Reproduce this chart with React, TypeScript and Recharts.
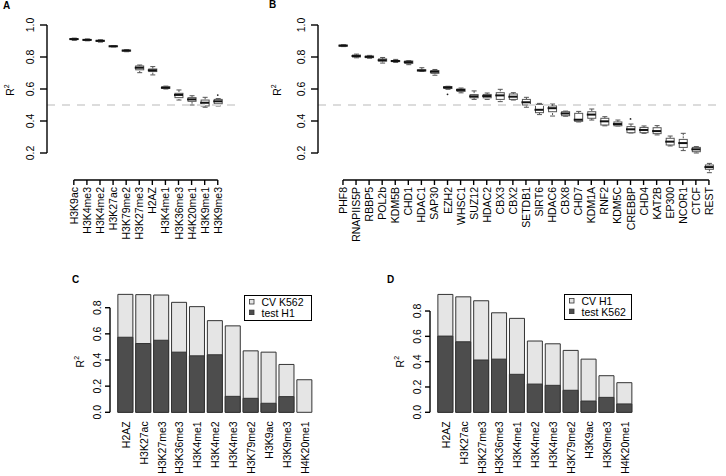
import React from 'react';
import { ComposedChart, Bar, Scatter, XAxis, YAxis, ReferenceLine, Legend } from 'recharts';

const FONT = '"Liberation Sans", Arial, Helvetica, sans-serif';
const TXT = 10.5;

// A: histone marks, cross-validation R2 (five-number summaries per mark)
const aNames = ['H3K9ac', 'H3K4me3', 'H3K4me2', 'H3K27ac', 'H3K79me2', 'H3K27me3', 'H2AZ', 'H3K4me1', 'H3K36me3', 'H4K20me1', 'H3K9me1', 'H3K9me3'];
const aLow = [0.904, 0.901, 0.893, 0.863, 0.833, 0.702, 0.688, 0.600, 0.531, 0.500, 0.486, 0.494];
const aQ1 = [0.909, 0.905, 0.898, 0.865, 0.837, 0.720, 0.709, 0.604, 0.546, 0.523, 0.494, 0.508];
const aMed = [0.912, 0.907, 0.901, 0.867, 0.840, 0.733, 0.717, 0.608, 0.563, 0.535, 0.514, 0.523];
const aQ3 = [0.914, 0.909, 0.904, 0.869, 0.843, 0.744, 0.725, 0.614, 0.573, 0.546, 0.531, 0.535];
const aHigh = [0.918, 0.913, 0.908, 0.871, 0.846, 0.750, 0.740, 0.618, 0.594, 0.558, 0.548, 0.540];
const aOutliers = [{ name: 'H3K9me3', value: 0.562 }];

// B: transcription factors / chromatin proteins
const bNames = ['PHF8', 'RNAPIIS5P', 'RBBP5', 'POL2b', 'KDM5B', 'CHD1', 'HDAC1', 'SAP30', 'EZH2', 'WHSC1', 'SUZ12', 'HDAC2', 'CBX3', 'CBX2', 'SETDB1', 'SIRT6', 'HDAC6', 'CBX8', 'CHD7', 'KDM1A', 'RNF2', 'KDM5C', 'CREBBP', 'CHD4', 'KAT2B', 'EP300', 'NCOR1', 'CTCF', 'REST'];
const bLow = [0.865, 0.795, 0.792, 0.762, 0.766, 0.752, 0.710, 0.686, 0.598, 0.576, 0.535, 0.535, 0.521, 0.531, 0.486, 0.440, 0.431, 0.430, 0.394, 0.406, 0.370, 0.369, 0.325, 0.323, 0.313, 0.244, 0.215, 0.200, 0.077];
const bQ1 = [0.868, 0.800, 0.796, 0.774, 0.771, 0.760, 0.713, 0.698, 0.603, 0.585, 0.545, 0.545, 0.535, 0.535, 0.500, 0.452, 0.458, 0.433, 0.398, 0.417, 0.375, 0.370, 0.327, 0.327, 0.321, 0.250, 0.235, 0.208, 0.098];
const bMed = [0.871, 0.806, 0.801, 0.780, 0.775, 0.768, 0.716, 0.708, 0.610, 0.594, 0.554, 0.556, 0.560, 0.552, 0.517, 0.470, 0.480, 0.447, 0.408, 0.440, 0.398, 0.381, 0.348, 0.344, 0.337, 0.271, 0.262, 0.223, 0.112];
const bQ3 = [0.874, 0.812, 0.806, 0.788, 0.778, 0.775, 0.720, 0.715, 0.615, 0.600, 0.565, 0.566, 0.577, 0.569, 0.535, 0.504, 0.494, 0.458, 0.448, 0.458, 0.417, 0.394, 0.365, 0.360, 0.358, 0.292, 0.285, 0.235, 0.125];
const bHigh = [0.877, 0.818, 0.810, 0.797, 0.785, 0.778, 0.733, 0.722, 0.617, 0.606, 0.588, 0.575, 0.598, 0.577, 0.548, 0.510, 0.506, 0.462, 0.460, 0.475, 0.427, 0.406, 0.381, 0.369, 0.371, 0.306, 0.323, 0.240, 0.135];
const bOutliers = [{ name: 'EZH2', value: 0.567 }, { name: 'CREBBP', value: 0.413 }];

// C: CV in K562 vs test in H1
const cNames = ['H2AZ', 'H3K27ac', 'H3K27me3', 'H3K36me3', 'H3K4me1', 'H3K4me2', 'H3K4me3', 'H3K79me2', 'H3K9ac', 'H3K9me3', 'H4K20me1'];
const cCv = [0.902, 0.900, 0.897, 0.841, 0.808, 0.701, 0.661, 0.470, 0.460, 0.366, 0.249];
const cTest = [0.574, 0.526, 0.551, 0.460, 0.432, 0.440, 0.122, 0.107, 0.069, 0.120, 0.0];

// D: CV in H1 vs test in K562
const dNames = ['H2AZ', 'H3K27ac', 'H3K27me3', 'H3K36me3', 'H3K4me1', 'H3K4me2', 'H3K4me3', 'H3K79me2', 'H3K9ac', 'H3K9me3', 'H4K20me1'];
const dCv = [0.931, 0.912, 0.881, 0.786, 0.742, 0.563, 0.541, 0.489, 0.420, 0.289, 0.234];
const dTest = [0.602, 0.557, 0.413, 0.420, 0.300, 0.223, 0.213, 0.174, 0.089, 0.118, 0.066];

const boxTicks = [0.2, 0.4, 0.6, 0.8, 1.0];
const barTicks = [0, 0.2, 0.4, 0.6, 0.8];
const BOX_YMIN = 0.03125;
const BAR_XDOMAIN: [number, number] = [0.12, 11.88];
const AXIS_STROKE = { stroke: '#000', strokeWidth: 1.4 };

const ValueTick = ({ x, y, payload, shift }: any) => (
  <text
    transform={`translate(${x - shift},${y}) rotate(-90)`}
    textAnchor="middle"
    dominantBaseline="central"
    fontSize={TXT}
    fontFamily={FONT}
    fill="#000"
  >
    {Number(payload.value).toFixed(1)}
  </text>
);

const NameTick = ({ x, y, payload, names }: any) => (
  <text
    transform={`translate(${x},${y}) rotate(-90)`}
    textAnchor="end"
    dominantBaseline="central"
    fontSize={TXT}
    fontFamily={FONT}
    fill="#000"
  >
    {names[payload.value - 1]}
  </text>
);

const R2Label = ({ cx, cy }: any) => (
  <text
    transform={`translate(${cx},${cy}) rotate(-90)`}
    textAnchor="middle"
    dominantBaseline="central"
    fontSize={TXT}
    fontFamily={FONT}
    fill="#000"
  >
    R<tspan fontSize={7} dy={-4}>2</tspan>
  </text>
);

const Whisker = (props: any) => {
  const { x, y, width, height } = props;
  if (x == null || y == null) return null;
  const cx = x + width / 2;
  const top = Math.min(y, y + height);
  const bot = Math.max(y, y + height);
  return (
    <g stroke="#555" strokeWidth={1}>
      <line x1={cx} x2={cx} y1={top} y2={bot} strokeDasharray="2 1" />
      <line x1={cx - 2.5} x2={cx + 2.5} y1={top} y2={top} />
      <line x1={cx - 2.5} x2={cx + 2.5} y1={bot} y2={bot} />
    </g>
  );
};

const BoxShape = (props: any) => {
  const { x, y, width, height } = props;
  if (x == null || y == null) return null;
  return (
    <rect
      x={x}
      y={Math.min(y, y + height)}
      width={width}
      height={Math.abs(height)}
      fill="#fff"
      stroke="#555"
      strokeWidth={1}
    />
  );
};

const MedianMark = (props: any) => {
  const { cx, cy } = props;
  return <line x1={cx - 4.5} x2={cx + 4.5} y1={cy} y2={cy} stroke="#111" strokeWidth={2} />;
};

const OutlierDot = (props: any) => <circle cx={props.cx} cy={props.cy} r={0.9} fill="#222" />;

const NoMark = () => <g />;

type BoxPanelProps = {
  names: string[];
  low: number[];
  q1: number[];
  med: number[];
  q3: number[];
  high: number[];
  outliers: { name: string; value: number }[];
  width: number;
  yAxisWidth: number;
  rightMargin: number;
  xDomain: [number, number];
  labelX: number;
};

const BoxPanel: React.FC<BoxPanelProps> = ({ names, low, q1, med, q3, high, outliers, width, yAxisWidth, rightMargin, xDomain, labelX }) => {
  const rows = names.map((name, i) => ({
    pos: i + 1,
    name,
    whisker: [low[i], high[i]],
    box: [q1[i], q3[i]],
    med: med[i],
  }));
  const outRows = outliers.map((o) => ({ pos: names.indexOf(o.name) + 1, value: o.value }));
  const ticks = names.map((_, i) => i + 1);
  // R-style axes: lines only across the tick range
  const yAxisPts = [{ pos: xDomain[0], v: 0.2 }, { pos: xDomain[0], v: 1 }];
  const xAxisPts = [{ pos: 1, v: BOX_YMIN }, { pos: names.length, v: BOX_YMIN }];

  return (
    <ComposedChart width={width} height={260} data={rows} margin={{ top: 25, right: rightMargin, bottom: 0, left: 0 }}>
      <XAxis
        dataKey="pos"
        type="number"
        domain={xDomain}
        ticks={ticks}
        interval={0}
        axisLine={false}
        tickSize={5}
        tickLine={AXIS_STROKE}
        height={80}
        tick={<NameTick names={names} />}
      />
      <XAxis xAxisId="box" dataKey="pos" type="number" domain={xDomain} hide />
      <YAxis
        type="number"
        domain={[BOX_YMIN, 1]}
        ticks={boxTicks}
        width={yAxisWidth}
        axisLine={false}
        tickSize={7}
        tickLine={AXIS_STROKE}
        tick={<ValueTick shift={8} />}
        label={<R2Label cx={labelX} cy={90} />}
      />
      <ReferenceLine y={0.5} stroke="#dcdcdc" strokeWidth={2} strokeDasharray="8 7" />
      <Scatter data={yAxisPts} dataKey="v" line={AXIS_STROKE} shape={<NoMark />} legendType="none" isAnimationActive={false} />
      <Scatter data={xAxisPts} dataKey="v" line={AXIS_STROKE} shape={<NoMark />} legendType="none" isAnimationActive={false} />
      <Bar dataKey="whisker" barSize={8} shape={(p: any) => <Whisker {...p} />} isAnimationActive={false} />
      <Bar xAxisId="box" dataKey="box" barSize={8} shape={(p: any) => <BoxShape {...p} />} isAnimationActive={false} />
      <Scatter dataKey="med" shape={(p: any) => <MedianMark {...p} />} isAnimationActive={false} />
      <Scatter data={outRows} dataKey="value" shape={(p: any) => <OutlierDot {...p} />} isAnimationActive={false} />
    </ComposedChart>
  );
};

const PairLegend = ({ payload }: any) => {
  const items = (payload || []).filter((p: any) => p.type !== 'none');
  return (
    <svg width={68} height={26} style={{ display: 'block' }}>
      <rect x={0.5} y={0.5} width={67} height={25} fill="#fff" stroke="#000" />
      {items.map((p: any, i: number) => (
        <g key={p.value}>
          <rect x={5.5} y={4.5 + i * 10.6} width={4.5} height={4.5} fill={p.color} stroke="#333" strokeWidth={0.8} />
          <text x={17.5} y={7 + i * 10.6} dominantBaseline="central" fontSize={TXT} fontFamily={FONT} fill="#000">
            {p.value}
          </text>
        </g>
      ))}
    </svg>
  );
};

type PairPanelProps = {
  names: string[];
  cv: number[];
  test: number[];
  seriesNames: [string, string];
  width: number;
  yAxisWidth: number;
  rightMargin: number;
  topMargin: number;
  labelX: number;
  legendLeft: number;
  legendTop: number;
};

const PairPanel: React.FC<PairPanelProps> = ({ names, cv, test, seriesNames, width, yAxisWidth, rightMargin, topMargin, labelX, legendLeft, legendTop }) => {
  const rows = names.map((name, i) => ({ pos: i + 1, name, cv: cv[i], test: test[i] }));
  const ticks = names.map((_, i) => i + 1);
  const yAxisPts = [{ pos: BAR_XDOMAIN[0], v: 0 }, { pos: BAR_XDOMAIN[0], v: 0.8 }];

  return (
    <ComposedChart width={width} height={206} data={rows} margin={{ top: topMargin, right: rightMargin, bottom: 0, left: 0 }}>
      <XAxis
        dataKey="pos"
        type="number"
        domain={BAR_XDOMAIN}
        ticks={ticks}
        interval={0}
        axisLine={false}
        tickLine={false}
        tickSize={7}
        height={63.7}
        tick={<NameTick names={names} />}
      />
      <XAxis xAxisId="front" dataKey="pos" type="number" domain={BAR_XDOMAIN} hide />
      <YAxis
        type="number"
        domain={[0, 1]}
        ticks={barTicks}
        width={yAxisWidth}
        axisLine={false}
        tickSize={5}
        tickLine={AXIS_STROKE}
        tick={<ValueTick shift={6.5} />}
        label={<R2Label cx={labelX} cy={91.7} />}
      />
      <Scatter data={yAxisPts} dataKey="v" line={AXIS_STROKE} shape={<NoMark />} legendType="none" isAnimationActive={false} />
      <Bar dataKey="cv" name={seriesNames[0]} fill="#e5e5e5" stroke="#333" strokeWidth={1} barSize={15} isAnimationActive={false} />
      <Bar xAxisId="front" dataKey="test" name={seriesNames[1]} fill="#4d4d4d" stroke="#333" strokeWidth={1} barSize={15} isAnimationActive={false} />
      <Legend
        content={<PairLegend />}
        layout="horizontal"
        verticalAlign="middle"
        align="center"
        wrapperStyle={{ left: legendLeft, top: legendTop, width: 68, height: 26 }}
      />
    </ComposedChart>
  );
};

const letterStyle: React.CSSProperties = {
  position: 'absolute',
  fontFamily: FONT,
  fontWeight: 'bold',
  fontSize: 10,
  lineHeight: '10px',
  color: '#000',
};

export default function App() {
  return (
    <div style={{ position: 'absolute', left: 0, top: 0, width: 726, height: 476, background: '#fff', overflow: 'hidden' }}>
      <div style={{ position: 'absolute', left: 0, top: 0 }}>
        <BoxPanel
          names={aNames}
          low={aLow}
          q1={aQ1}
          med={aMed}
          q3={aQ3}
          high={aHigh}
          outliers={aOutliers}
          width={250}
          yAxisWidth={47}
          rightMargin={10}
          xDomain={[-1.05, 13.7]}
          labelX={10}
        />
      </div>
      <div style={{ position: 'absolute', left: 250, top: 0 }}>
        <BoxPanel
          names={bNames}
          low={bLow}
          q1={bQ1}
          med={bMed}
          q3={bQ3}
          high={bHigh}
          outliers={bOutliers}
          width={476}
          yAxisWidth={68}
          rightMargin={4}
          xDomain={[-0.91, 30.0]}
          labelX={26.7}
        />
      </div>
      <div style={{ position: 'absolute', left: 0, top: 270 }}>
        <PairPanel
          names={cNames}
          cv={cCv}
          test={cTest}
          seriesNames={['CV K562', 'test H1']}
          width={330}
          yAxisWidth={110}
          rightMargin={9.5}
          topMargin={11.55}
          labelX={80}
          legendLeft={244}
          legendTop={25}
        />
      </div>
      <div style={{ position: 'absolute', left: 330, top: 270 }}>
        <PairPanel
          names={dNames}
          cv={dCv}
          test={dTest}
          seriesNames={['CV H1', 'test K562']}
          width={396}
          yAxisWidth={100}
          rightMargin={85.5}
          topMargin={15.7}
          labelX={70}
          legendLeft={234}
          legendTop={24}
        />
      </div>
      <div style={{ ...letterStyle, left: 3, top: 1 }}>A</div>
      <div style={{ ...letterStyle, left: 269, top: 0 }}>B</div>
      <div style={{ ...letterStyle, left: 72, top: 275 }}>C</div>
      <div style={{ ...letterStyle, left: 387, top: 275 }}>D</div>
    </div>
  );
}
